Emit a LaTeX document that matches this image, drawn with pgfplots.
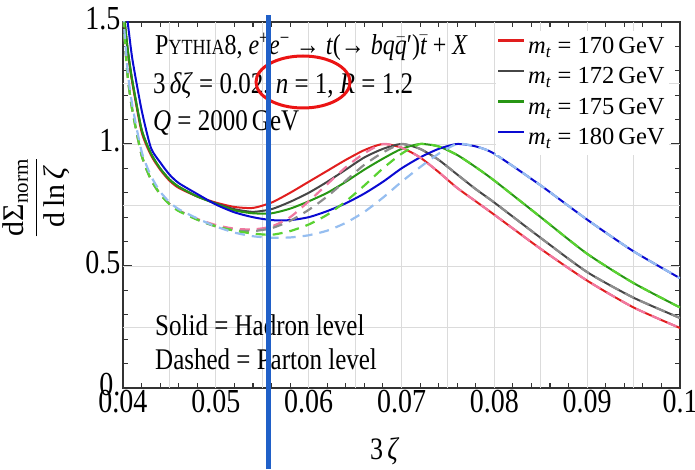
\RequirePackage{fix-cm}
\documentclass[border=0pt]{standalone}
\usepackage{fontspec}
\setmainfont{Liberation Serif}
\usepackage{amsmath}
\usepackage{graphicx}
\usepackage{pgfplots}
\pgfplotsset{compat=1.18}
\usepackage{pgfplotstable}

\newcommand{\tl}[1]{\scalebox{1}[1.2]{#1}}

\definecolor{cR}{RGB}{225,30,30}
\definecolor{cK}{RGB}{70,70,70}
\definecolor{cG}{RGB}{40,150,20}
\definecolor{cB}{RGB}{10,10,210}
\definecolor{dR}{RGB}{240,120,160}
\definecolor{dK}{RGB}{140,140,140}
\definecolor{dG}{RGB}{90,210,50}
\definecolor{dB}{RGB}{150,190,240}
\definecolor{annoblue}{RGB}{32,96,200}
\definecolor{annored}{RGB}{235,20,20}

\pgfplotstableread{
x y
0.0400 1.56
0.0405 1.38
0.0410 1.25
0.0420 1.05
0.0430 0.955
0.0440 0.895
0.0450 0.850
0.0460 0.820
0.0480 0.785
0.0500 0.760
0.0520 0.742
0.0540 0.738
0.0560 0.760
0.0580 0.800
0.0600 0.845
0.0620 0.890
0.0640 0.935
0.0660 0.975
0.0680 1.000
0.0700 0.985
0.0720 0.945
0.0740 0.885
0.0760 0.820
0.0780 0.765
0.0800 0.710
0.0850 0.570
0.0900 0.440
0.0950 0.330
0.1000 0.246
}\solR

\pgfplotstableread{
x y
0.0400 1.57
0.0405 1.39
0.0410 1.26
0.0420 1.06
0.0430 0.962
0.0440 0.900
0.0450 0.855
0.0460 0.825
0.0480 0.785
0.0500 0.757
0.0520 0.733
0.0540 0.722
0.0560 0.733
0.0580 0.763
0.0600 0.800
0.0620 0.845
0.0640 0.895
0.0660 0.945
0.0680 0.980
0.0700 1.000
0.0720 0.980
0.0740 0.935
0.0760 0.875
0.0780 0.815
0.0800 0.760
0.0850 0.615
0.0900 0.475
0.0950 0.370
0.1000 0.287
}\solK

\pgfplotstableread{
x y
0.0400 1.57
0.0405 1.39
0.0410 1.26
0.0420 1.06
0.0430 0.962
0.0440 0.900
0.0450 0.855
0.0460 0.825
0.0480 0.785
0.0500 0.755
0.0520 0.728
0.0540 0.716
0.0560 0.716
0.0580 0.735
0.0600 0.765
0.0620 0.800
0.0640 0.845
0.0660 0.895
0.0680 0.940
0.0700 0.980
0.0720 1.000
0.0740 0.990
0.0760 0.955
0.0780 0.905
0.0800 0.850
0.0850 0.700
0.0900 0.550
0.0950 0.430
0.1000 0.330
}\solG

\pgfplotstableread{
x y
0.0400 1.62
0.0405 1.50
0.0410 1.35
0.0420 1.14
0.0430 0.985
0.0440 0.925
0.0450 0.875
0.0460 0.840
0.0480 0.795
0.0500 0.752
0.0520 0.720
0.0540 0.700
0.0560 0.688
0.0580 0.688
0.0600 0.700
0.0620 0.725
0.0640 0.757
0.0660 0.797
0.0680 0.845
0.0700 0.900
0.0720 0.945
0.0740 0.980
0.0760 1.000
0.0780 0.990
0.0800 0.960
0.0850 0.830
0.0900 0.690
0.0950 0.560
0.1000 0.450
}\solB

\pgfplotstableread{
x y
0.0400 1.52
0.0405 1.28
0.0410 1.14
0.0420 0.955
0.0430 0.855
0.0440 0.795
0.0450 0.755
0.0460 0.728
0.0480 0.693
0.0500 0.668
0.0520 0.653
0.0540 0.650
0.0560 0.662
0.0580 0.700
0.0600 0.765
0.0620 0.835
0.0640 0.905
0.0660 0.962
0.0680 1.000
0.0700 0.985
0.0720 0.945
0.0740 0.885
0.0760 0.820
0.0780 0.765
0.0800 0.710
0.0850 0.570
0.0900 0.440
0.0950 0.330
0.1000 0.246
}\dasR

\pgfplotstableread{
x y
0.0400 1.52
0.0405 1.28
0.0410 1.14
0.0420 0.955
0.0430 0.855
0.0440 0.795
0.0450 0.755
0.0460 0.728
0.0480 0.690
0.0500 0.662
0.0520 0.646
0.0540 0.643
0.0560 0.655
0.0580 0.685
0.0600 0.730
0.0620 0.785
0.0640 0.850
0.0660 0.915
0.0680 0.965
0.0700 1.000
0.0720 0.980
0.0740 0.935
0.0760 0.875
0.0780 0.815
0.0800 0.760
0.0850 0.615
0.0900 0.475
0.0950 0.370
0.1000 0.287
}\dasK

\pgfplotstableread{
x y
0.0400 1.52
0.0405 1.28
0.0410 1.14
0.0420 0.955
0.0430 0.855
0.0440 0.795
0.0450 0.753
0.0460 0.725
0.0480 0.690
0.0500 0.663
0.0520 0.645
0.0540 0.633
0.0560 0.628
0.0580 0.643
0.0600 0.670
0.0620 0.710
0.0640 0.765
0.0660 0.830
0.0680 0.900
0.0700 0.960
0.0720 1.000
0.0740 0.990
0.0760 0.955
0.0780 0.905
0.0800 0.850
0.0850 0.700
0.0900 0.550
0.0950 0.430
0.1000 0.330
}\dasG

\pgfplotstableread{
x y
0.0400 1.54
0.0405 1.30
0.0410 1.16
0.0420 0.970
0.0430 0.870
0.0440 0.805
0.0450 0.762
0.0460 0.733
0.0480 0.695
0.0500 0.662
0.0520 0.637
0.0540 0.622
0.0560 0.616
0.0580 0.617
0.0600 0.626
0.0620 0.645
0.0640 0.677
0.0660 0.722
0.0680 0.780
0.0700 0.845
0.0720 0.905
0.0740 0.960
0.0760 1.000
0.0780 0.990
0.0800 0.960
0.0850 0.830
0.0900 0.690
0.0950 0.560
0.1000 0.450
}\dasB

\begin{document}
\begin{tikzpicture}
\begin{axis}[
  name=ax,
  scale only axis,
  width=557pt, height=366pt,
  xmin=0.04, xmax=0.1, ymin=0, ymax=1.5,
  xtick={0.04,0.05,0.06,0.07,0.08,0.09,0.1},
  xticklabels={\tl{0.04},\tl{0.05},\tl{0.06},\tl{0.07},\tl{0.08},\tl{0.09},\tl{0.1}},
  ytick={0,0.5,1,1.5},
  yticklabels={\tl{0.},\tl{0.5},\tl{1.},\tl{1.5}},
  minor x tick num=4, minor y tick num=4,
  extra x ticks={0.045,0.05,0.055,0.06,0.065,0.07,0.075,0.08,0.085,0.09,0.095},
  extra x tick labels={},
  extra y ticks={0.25,0.5,0.75,1,1.25},
  extra y tick labels={},
  extra tick style={grid=major, major tick length=0pt},
  major grid style={draw=black!14, line width=0.9pt},
  axis line style={line width=1.3pt, black!80},
  tick style={line width=1.1pt, black!80},
  major tick length=9pt, minor tick length=5pt,
  tick label style={font=\fontsize{28}{30}\selectfont},
  xticklabel style={yshift=1pt},
  yticklabel style={yshift=3pt, xshift=1pt},
  xlabel={\tl{3\,\textit{ζ}}},
  xlabel style={font=\fontsize{26}{30}\selectfont, at={(axis description cs:0.47,-0.172)}, anchor=center},
  ylabel={$\displaystyle\frac{\text{dΣ}_{\text{norm}}}{\text{d\,ln\,\itshape ζ}}$},
  ylabel style={font=\fontsize{30}{34}\selectfont, at={(axis description cs:-0.156,0.52)}, anchor=center},
  legend style={at={(rel axis cs:0.980,0.975)}, anchor=north east, draw=none, fill=white,
    font=\fontsize{24.5}{30}\selectfont, row sep=0pt, inner sep=1pt,
    nodes={inner xsep=3pt, inner ysep=0pt, text height=21pt, text depth=9.5pt}},
  legend cell align=left,
  legend image code/.code={\draw[#1, line width=2.2pt] (0pt,7pt) -- (26pt,7pt);},
]
\addplot[cR, line width=2pt, smooth, tension=0.4] table[x=x,y=y] {\solR};
\addlegendentry{\textit{m}\textsubscript{\textit{t}} = 170\,GeV}
\addplot[cK, line width=2pt, smooth, tension=0.4] table[x=x,y=y] {\solK};
\addlegendentry{\textit{m}\textsubscript{\textit{t}} = 172\,GeV}
\addplot[cG, line width=2pt, smooth, tension=0.4] table[x=x,y=y] {\solG};
\addlegendentry{\textit{m}\textsubscript{\textit{t}} = 175\,GeV}
\addplot[cB, line width=2pt, smooth, tension=0.4] table[x=x,y=y] {\solB};
\addlegendentry{\textit{m}\textsubscript{\textit{t}} = 180\,GeV}
\addplot[dR, line width=2.2pt, dash pattern=on 10pt off 7pt, smooth, tension=0.4, forget plot] table[x=x,y=y] {\dasR};
\addplot[dK, line width=2.2pt, dash pattern=on 10pt off 7pt, smooth, tension=0.4, forget plot] table[x=x,y=y] {\dasK};
\addplot[dG, line width=2.2pt, dash pattern=on 10pt off 7pt, smooth, tension=0.4, forget plot] table[x=x,y=y] {\dasG};
\addplot[dB, line width=2.2pt, dash pattern=on 10pt off 7pt, smooth, tension=0.4, forget plot] table[x=x,y=y] {\dasB};

\node[anchor=base west, inner sep=0pt, font=\fontsize{24}{30}\selectfont] at (axis cs:0.04345,1.365)
  {\tl{P{\fontsize{18}{24}\selectfont YTHIA}8, \textit{e}\textsuperscript{+}\textit{e}\textsuperscript{−} → \textit{t}(→ \textit{bq}$\bar{\text{\itshape q}}$′)$\bar{\text{\itshape t}}$ + \textit{X}}};
\node[anchor=base west, inner sep=0pt, font=\fontsize{25}{30}\selectfont] at (axis cs:0.04323,1.209)
  {\tl{3\,\textit{δζ} = 0.02, \textit{n} = 1,\ \textit{R} = 1.2}};
\node[anchor=base west, inner sep=0pt, font=\fontsize{25}{30}\selectfont] at (axis cs:0.04323,1.057)
  {\tl{\textit{Q} = 2000\,GeV}};
\node[anchor=base west, inner sep=0pt, font=\fontsize{25}{30}\selectfont] at (axis cs:0.04345,0.217)
  {\tl{Solid = Hadron level}};
\node[anchor=base west, inner sep=0pt, font=\fontsize{25}{30}\selectfont] at (axis cs:0.04345,0.074)
  {\tl{Dashed = Parton level}};
\end{axis}
\draw[annored, line width=3pt] (ax.south west) ++(180pt,306pt) ellipse [x radius=47pt, y radius=26pt];
\draw[annoblue, line width=5pt] (ax.south west) ++(145pt,-81pt) -- ++(0pt,454pt);
\pgfresetboundingbox
\path (ax.south west) ++(-123pt,-81pt) rectangle ++(695pt,469pt);
\end{tikzpicture}
\end{document}
